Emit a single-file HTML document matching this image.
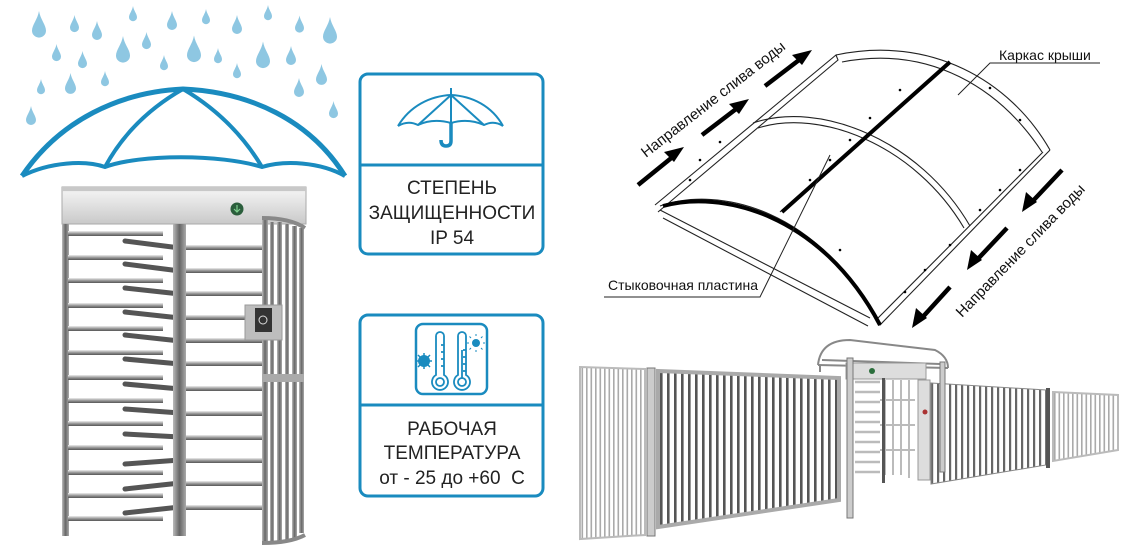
<!DOCTYPE html>
<html><head><meta charset="utf-8"><style>
html,body{margin:0;padding:0;background:#fff;}
svg{display:block;}
text{font-family:"Liberation Sans",sans-serif;}
</style></head><body>
<svg width="1132" height="555" viewBox="0 0 1132 555" xmlns="http://www.w3.org/2000/svg">
<defs>
<symbol id="drop" viewBox="0 0 10 20"><path d="M5 0 C6 6 10 10 10 14 A5 5 0 0 1 0 14 C0 10 4 6 5 0Z" fill="#8ec7e2"/></symbol>
<pattern id="pDark" width="7" height="10" patternUnits="userSpaceOnUse"><rect width="7" height="10" fill="#fff"/><rect x="2" width="2.6" height="10" fill="#555"/></pattern>
<pattern id="pLight" width="4.5" height="10" patternUnits="userSpaceOnUse"><rect width="4.5" height="10" fill="#fff"/><rect x="1" width="1.6" height="10" fill="#aaa"/></pattern>
<pattern id="pMid" width="6" height="10" patternUnits="userSpaceOnUse"><rect width="6" height="10" fill="#fff"/><rect x="1" width="2.2" height="10" fill="#666"/></pattern>
<linearGradient id="gBar" x1="0" y1="0" x2="0" y2="1"><stop offset="0" stop-color="#d8d8d8"/><stop offset=".15" stop-color="#f0f0f0"/><stop offset="1" stop-color="#c9c9c9"/></linearGradient>
<linearGradient id="gPipe" x1="0" y1="0" x2="0" y2="1"><stop offset="0" stop-color="#eee"/><stop offset=".5" stop-color="#999"/><stop offset="1" stop-color="#555"/></linearGradient>
<linearGradient id="gPost" x1="0" y1="0" x2="1" y2="0"><stop offset="0" stop-color="#bbb"/><stop offset=".5" stop-color="#666"/><stop offset="1" stop-color="#aaa"/></linearGradient>
</defs>

<g>
<use href="#drop" x="32" y="5" width="14" height="40"/>
<use href="#drop" x="70" y="13" width="9" height="22"/>
<use href="#drop" x="92" y="16" width="10" height="30"/>
<use href="#drop" x="129" y="4" width="8" height="20"/>
<use href="#drop" x="167" y="6" width="10" height="30"/>
<use href="#drop" x="202" y="7" width="8" height="20"/>
<use href="#drop" x="232" y="10" width="10" height="30"/>
<use href="#drop" x="264" y="3" width="8" height="20"/>
<use href="#drop" x="295" y="12" width="9" height="25"/>
<use href="#drop" x="323" y="10" width="14" height="42"/>
<use href="#drop" x="52" y="38" width="9" height="30"/>
<use href="#drop" x="78" y="46" width="9" height="28"/>
<use href="#drop" x="116" y="28" width="14" height="44"/>
<use href="#drop" x="142" y="28" width="9" height="26"/>
<use href="#drop" x="187" y="27" width="14" height="45"/>
<use href="#drop" x="214" y="42" width="8" height="28"/>
<use href="#drop" x="160" y="52" width="8" height="22"/>
<use href="#drop" x="256" y="33" width="14" height="45"/>
<use href="#drop" x="286" y="40" width="10" height="32"/>
<use href="#drop" x="37" y="75" width="8" height="24"/>
<use href="#drop" x="65" y="66" width="11" height="36"/>
<use href="#drop" x="101" y="68" width="8" height="22"/>
<use href="#drop" x="233" y="60" width="8" height="22"/>
<use href="#drop" x="294" y="72" width="10" height="32"/>
<use href="#drop" x="316" y="58" width="11" height="34"/>
<use href="#drop" x="26" y="100" width="10" height="32"/>
<use href="#drop" x="329" y="95" width="9" height="30"/>
</g>

<g fill="none" stroke="#1a8bbf" stroke-linejoin="round">
<path d="M22 176 C60 120 120 92 183 89 C250 92 310 120 345 176" stroke-width="5"/>
<path d="M22 176 C50 162 85 160 105 167 C140 154 220 154 262 167 C285 160 320 162 345 176" stroke-width="4"/>
<path d="M105 167 C125 130 155 105 183 89 C210 105 240 130 262 167" stroke-width="4"/>
</g>

<g>
<rect x="62" y="187" width="244" height="37" fill="url(#gBar)" stroke="#aaa"/>
<rect x="62" y="187" width="244" height="4" fill="#c8c8c8"/>
<circle cx="237" cy="209" r="6.5" fill="#2b5e3c"/>
<path d="M237 205 v7 m-3 -3 l3 3 3 -3" stroke="#7fd08f" stroke-width="1.2" fill="none"/>
<rect x="62" y="224" width="7" height="312" fill="url(#gPost)"/>
<g fill="url(#gPipe)">
<rect x="68" y="231" width="95" height="5"/><rect x="68" y="255" width="95" height="5"/><rect x="68" y="278" width="95" height="5"/><rect x="68" y="303" width="95" height="5"/><rect x="68" y="326" width="95" height="5"/><rect x="68" y="350" width="95" height="5"/><rect x="68" y="375" width="95" height="5"/><rect x="68" y="398" width="95" height="5"/><rect x="68" y="421" width="95" height="5"/><rect x="68" y="445" width="95" height="5"/><rect x="68" y="470" width="95" height="5"/><rect x="68" y="493" width="95" height="5"/><rect x="68" y="516" width="95" height="5"/>
</g>
<g stroke="#555" stroke-width="5" stroke-linecap="round">
<line x1="125" y1="241" x2="180" y2="248"/><line x1="125" y1="264" x2="180" y2="271"/><line x1="125" y1="288" x2="180" y2="294"/><line x1="125" y1="312" x2="180" y2="318"/><line x1="125" y1="335" x2="180" y2="341"/><line x1="125" y1="359" x2="180" y2="364"/><line x1="125" y1="384" x2="180" y2="389"/><line x1="125" y1="409" x2="180" y2="413"/><line x1="125" y1="434" x2="180" y2="437"/><line x1="125" y1="464" x2="180" y2="460"/><line x1="125" y1="489" x2="180" y2="483"/><line x1="125" y1="513" x2="180" y2="507"/>
</g>
<rect x="173" y="224" width="13" height="312" fill="url(#gPost)"/>
<g fill="url(#gPipe)">
<rect x="186" y="245" width="78" height="5"/><rect x="186" y="268" width="78" height="5"/><rect x="186" y="291" width="78" height="5"/><rect x="186" y="315" width="78" height="5"/><rect x="186" y="338" width="78" height="5"/><rect x="186" y="361" width="78" height="5"/><rect x="186" y="386" width="78" height="5"/><rect x="186" y="411" width="78" height="5"/><rect x="186" y="435" width="78" height="5"/><rect x="186" y="458" width="78" height="5"/><rect x="186" y="481" width="78" height="5"/><rect x="186" y="505" width="78" height="5"/>
</g>
<g fill="url(#gPost)">
<rect x="262" y="218" width="6" height="325"/><rect x="270" y="222" width="4" height="320"/><rect x="277" y="222" width="5" height="320"/><rect x="285" y="224" width="4" height="316"/><rect x="292" y="226" width="5" height="312"/><rect x="299" y="228" width="5" height="305"/>
</g>
<path d="M262 218 Q290 218 305 228" stroke="#888" stroke-width="4" fill="none"/>
<path d="M262 543 Q290 543 305 535" stroke="#888" stroke-width="4" fill="none"/>
<rect x="262" y="374" width="42" height="8" fill="#aaa"/>
<rect x="245" y="305" width="37" height="35" fill="#bdbdbd" stroke="#999"/>
<rect x="255" y="308" width="17" height="24" fill="#333"/>
<circle cx="263" cy="320" r="4" fill="none" stroke="#ddd" stroke-width="1"/>
</g>

<g fill="none" stroke="#1a8bbf" stroke-width="3">
<rect x="360" y="74" width="183" height="180" rx="8"/>
<line x1="360" y1="165" x2="543" y2="165"/>
<rect x="360" y="315" width="183" height="181" rx="8"/>
<line x1="360" y1="405" x2="543" y2="405"/>
<rect x="416" y="324" width="71" height="70" rx="7" stroke-width="2.5"/>
</g>
<g fill="none" stroke="#1a8bbf" stroke-width="2" stroke-linejoin="round">
<path d="M398 126 C410 106 430 96 451 95 C472 96 492 106 503 126"/>
<path d="M398 126 Q408 120 418 125 Q433 118 451 123 Q468 118 484 125 Q494 120 503 126"/>
<path d="M451 95 L418 125 M451 95 L484 125 M451 95 V123 M451 95 V88"/>
<path d="M451 123 V141 Q451 146 446 146 Q441 146 441 140" stroke-width="3.5"/>
</g>
<g fill="none" stroke="#1a8bbf" stroke-width="1.8">
<path d="M436 375 V336 A4 4 0 0 1 444 336 V375 A8 8 0 1 1 436 375Z"/>
<circle cx="440" cy="382" r="4"/>
<path d="M444 345 h-3 M444 352 h-3 M444 359 h-3 M444 366 h-3"/>
<path d="M458 375 V336 A4 4 0 0 1 466 336 V375 A8 8 0 1 1 458 375Z"/>
<circle cx="462" cy="382" r="4"/>
<path d="M466 350 h-3 M466 357 h-3 M466 364 h-3 M466 371 h-3 M462 350 V378"/>
</g>
<circle cx="476" cy="343" r="4" fill="#1a8bbf"/>
<g stroke="#1a8bbf" stroke-width="1"><path d="M476 336 v-2 M476 350 v2 M469 343 h-2 M483 343 h2 M471 338 l-1.5 -1.5 M481 348 l1.5 1.5 M481 338 l1.5 -1.5 M471 348 l-1.5 1.5"/></g>
<circle cx="424" cy="361" r="6" fill="#1a8bbf"/>
<g stroke="#1a8bbf" stroke-width="1.5"><path d="M416 361 h16 M424 353 v16 M418 355 l12 12 M430 355 l-12 12"/></g>

<g font-size="19" fill="#222" text-anchor="middle">
<text x="452" y="194">СТЕПЕНЬ</text>
<text x="452" y="219">ЗАЩИЩЕННОСТИ</text>
<text x="452" y="244">IP 54</text>
<text x="452" y="435">РАБОЧАЯ</text>
<text x="452" y="459">ТЕМПЕРАТУРА</text>
<text x="452" y="484">от - 25 до +60&#160;&#160;С</text>
</g>

<g fill="none" stroke="#222" stroke-width="1.1">
<path d="M655 205 L836 55 L838 60 L658 212"/>
<path d="M836 55 C930 35 1010 80 1050 150"/>
<path d="M842 62 C930 45 1000 88 1042 152"/>
<path d="M1050 150 L880 325 L876 320 L1043 152"/>
<path d="M753 123 C820 100 920 140 970 226"/>
<path d="M758 128 C820 108 915 145 964 228"/>
<path d="M660 210 L870 318 M663 218 L868 326"/>
<path d="M940 70 L780 212"/>
<path d="M660 206 C720 185 820 210 878 323" />
</g>
<path d="M663 206 C720 190 820 212 880 325" stroke="#000" stroke-width="4" fill="none"/>
<path d="M950 62 L782 212" stroke="#000" stroke-width="4" fill="none"/>
<g fill="#000">
<circle cx="990" cy="88" r="1.3"/><circle cx="1020" cy="120" r="1.3"/><circle cx="900" cy="90" r="1.3"/><circle cx="870" cy="118" r="1.3"/><circle cx="850" cy="140" r="1.3"/><circle cx="830" cy="160" r="1.3"/><circle cx="810" cy="180" r="1.3"/><circle cx="1020" cy="170" r="1.3"/><circle cx="1000" cy="190" r="1.3"/><circle cx="980" cy="210" r="1.3"/><circle cx="950" cy="245" r="1.3"/><circle cx="925" cy="270" r="1.3"/><circle cx="905" cy="292" r="1.3"/><circle cx="720" cy="142" r="1.3"/><circle cx="700" cy="160" r="1.3"/><circle cx="690" cy="180" r="1.3"/><circle cx="840" cy="250" r="1.3"/>
</g>
<g stroke="#000" stroke-width="4.5" fill="#000">
<line x1="638" y1="185" x2="675" y2="155"/><polygon points="684,147 664,152 674,162" stroke="none"/>
<line x1="702" y1="135" x2="740" y2="106"/><polygon points="749,99 729,104 739,114" stroke="none"/>
<line x1="765" y1="86" x2="803" y2="57"/><polygon points="812,50 792,55 802,65" stroke="none"/>
<line x1="1062" y1="170" x2="1030" y2="204"/><polygon points="1022,212 1026,192 1037,202" stroke="none"/>
<line x1="1007" y1="228" x2="975" y2="262"/><polygon points="967,270 971,250 982,260" stroke="none"/>
<line x1="950" y1="287" x2="920" y2="320"/><polygon points="912,328 916,308 927,318" stroke="none"/>
</g>
<g font-size="15" fill="#111">
<text transform="translate(646,158) rotate(-38)">Направление слива воды</text>
<text transform="translate(962,318) rotate(-46)">Направление слива воды</text>
<text x="999" y="60" font-size="14">Каркас крыши</text>
<text x="608" y="290" font-size="14">Стыковочная пластина</text>
</g>
<g stroke="#222" stroke-width="1" fill="none">
<path d="M1100 63 H990 L958 95"/>
<path d="M604 297 H760 L830 155"/>
</g>

<g stroke="#888" stroke-width="1">
<polygon points="580,367 645,369 645,535 580,539" fill="url(#pLight)"/>
<polygon points="1053,392 1118,395 1118,450 1053,461" fill="url(#pLight)"/>
<polygon points="931,383 1046,390 1046,465 931,484" fill="url(#pMid)"/>
</g>
<g stroke="#bbb" fill="none">
<polygon points="580,367 645,369 645,535 580,539" stroke-width="2"/>
<polygon points="1053,392 1118,395 1118,450 1053,461" stroke-width="2"/>
</g>
<polygon points="658,371 839,378 839,500 658,527" fill="url(#pDark)" stroke="#aaa" stroke-width="4"/>
<rect x="647" y="368" width="8" height="168" fill="#ccc" stroke="#777"/>
<rect x="1046" y="388" width="4" height="80" fill="#555"/>
<g stroke="#888" fill="none" stroke-width="2">
<path d="M818 365 C820 345 835 340 850 340 L935 350 C945 355 948 362 948 368"/>
<path d="M818 365 L948 368 M822 360 L940 364"/>
<path d="M820 365 V372"/>
</g>
<rect x="846" y="363" width="80" height="16" fill="#ddd" stroke="#999"/>
<circle cx="872" cy="371" r="3" fill="#2b6e3c"/>
<g stroke="#bbb" stroke-width="2.5">
<line x1="855" y1="382" x2="880" y2="382"/><line x1="855" y1="392" x2="880" y2="392"/><line x1="855" y1="402" x2="880" y2="402"/><line x1="855" y1="412" x2="880" y2="412"/><line x1="855" y1="422" x2="880" y2="422"/><line x1="855" y1="432" x2="880" y2="432"/><line x1="855" y1="442" x2="880" y2="442"/><line x1="855" y1="452" x2="880" y2="452"/><line x1="855" y1="462" x2="880" y2="462"/><line x1="855" y1="472" x2="880" y2="472"/>
</g>
<g stroke="#bbb" stroke-width="2">
<line x1="885" y1="380" x2="885" y2="475"/><line x1="893" y1="380" x2="893" y2="475"/><line x1="901" y1="380" x2="901" y2="475"/><line x1="909" y1="380" x2="909" y2="478"/><line x1="880" y1="400" x2="915" y2="400"/><line x1="880" y1="425" x2="915" y2="425"/><line x1="880" y1="450" x2="915" y2="450"/>
</g>
<rect x="882" y="378" width="3" height="105" fill="#555"/>
<rect x="918" y="380" width="12" height="100" fill="#ddd" stroke="#999"/>
<circle cx="925" cy="412" r="2.5" fill="#a33"/>
<rect x="847" y="358" width="6" height="160" fill="#ccc" stroke="#777"/>
<rect x="940" y="362" width="5" height="110" fill="#ccc" stroke="#777"/>
</svg>
</body></html>
